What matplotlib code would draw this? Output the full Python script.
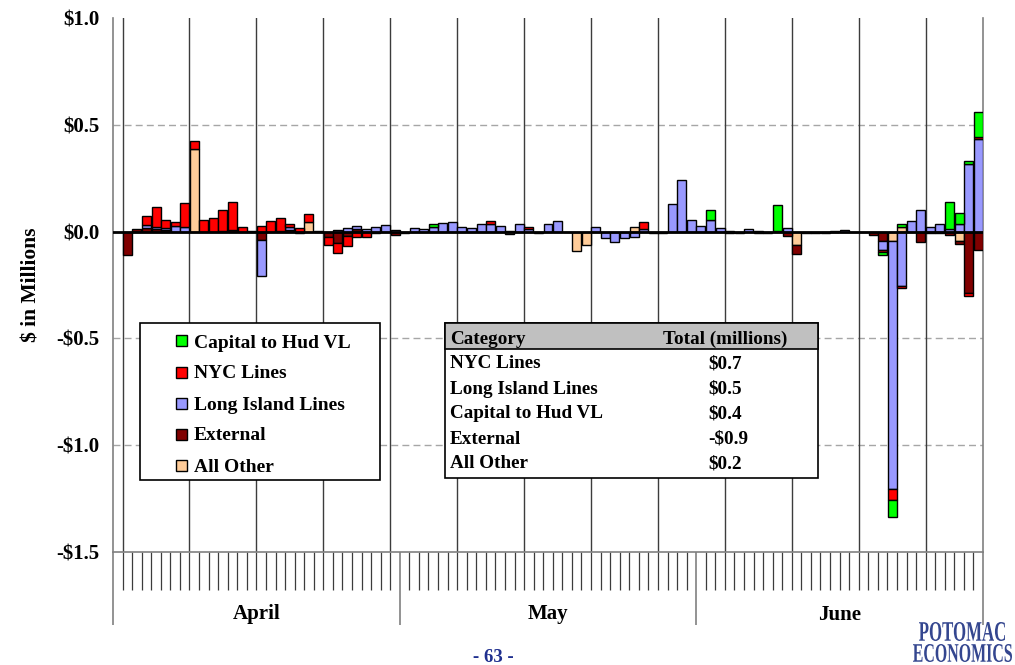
import matplotlib
matplotlib.use("Agg")
import numpy as np
import matplotlib.pyplot as plt
from matplotlib.patches import Rectangle, PathPatch
from matplotlib.textpath import TextPath
from matplotlib.font_manager import FontProperties
from matplotlib.transforms import Affine2D, IdentityTransform

# ---- daily values, $ millions, April 1 .. June 30 (91 days) ----
all_other = [
    0, 0, 0, 0, 0, 0, 0, 0, 0.385, 0,
    0, 0, 0, 0, 0, 0, 0, 0, 0, 0,
    0.045, 0, 0, 0, 0, 0, 0, 0, 0, 0,
    0, 0, 0, 0, 0, 0, 0, 0, 0, 0,
    0, -0.011, 0, 0, 0, 0, 0, 0, -0.092, -0.062,
    0, 0, 0, 0, 0.023, 0, 0, 0, 0, 0,
    0, 0, 0, 0, 0, 0, 0, 0, 0, 0,
    0, -0.061, 0, 0, 0, 0, 0, 0, 0, 0,
    0, -0.045, 0.02, 0, 0, 0, 0, 0, -0.045, 0,
    0,
]
external = [
    0, -0.11, 0.01, 0.015, 0.01, 0.008, 0, 0, 0, 0,
    0, 0, 0.008, 0, 0.005, -0.04, 0, 0.005, 0.007, -0.008,
    0, 0.005, -0.025, -0.053, -0.022, 0.012, 0, -0.005, 0, -0.017,
    -0.006, 0, 0, 0, 0, 0, 0, 0, 0, 0,
    0, 0, 0, 0, -0.005, 0, 0, -0.004, 0, 0,
    0, 0, 0, 0, 0, 0, -0.005, -0.005, 0, 0,
    0, 0, 0, 0, -0.005, -0.005, 0, -0.007, -0.008, 0.005,
    -0.019, -0.042, -0.006, -0.006, -0.005, -0.004, 0, -0.004, -0.004, -0.014,
    -0.045, 0, 0, 0, -0.048, 0, 0, -0.018, -0.012, -0.288,
    -0.086,
]
long_island = [
    0, 0, 0, 0.015, 0.012, 0.008, 0.026, 0.022, 0, 0,
    0, 0.005, 0, 0, 0, -0.168, 0, 0, 0.013, 0,
    0, 0, 0, 0.008, 0.017, 0.012, 0.012, 0.022, 0.031, 0.009,
    0, 0.016, 0.012, 0.022, 0.039, 0.045, 0.02, 0.017, 0.036, 0.034,
    0.025, 0.004, 0.037, 0.012, 0, 0.035, 0.048, 0, 0, 0,
    0.02, -0.031, -0.047, -0.031, -0.026, 0.012, 0, 0, 0.13, 0.24,
    0.052, 0.026, 0.053, 0.016, 0.003, 0, 0.012, 0.005, 0, 0,
    0.016, 0, 0, 0, 0, 0.002, 0.006, 0, 0, 0,
    -0.042, -1.16, -0.255, 0.05, 0.1, 0.022, 0.036, 0.01, 0.036, 0.318,
    0.433,
]
nyc = [
    0, 0, 0, 0.045, 0.093, 0.037, 0.02, 0.114, 0.04, 0.053,
    0.062, 0.096, 0.13, 0.02, 0, 0.025, 0.05, 0.06, 0.017, 0.015,
    0.039, 0, -0.039, -0.047, -0.044, -0.025, -0.025, 0, 0, 0,
    0, 0, 0, 0, 0, 0, 0, 0, 0, 0.016,
    0, 0, 0, 0.011, 0, 0, 0, 0, 0, 0,
    0, 0, 0, 0, 0, 0.034, 0, 0, 0, 0,
    0, 0, 0, 0, 0, 0, 0, 0, 0, 0,
    0, 0, 0, 0, 0, 0, 0, 0, 0, 0,
    -0.01, -0.051, -0.007, 0, 0, 0, -0.008, 0, 0, -0.012,
    0.009,
]
capital = [
    0, 0, 0, 0, 0, 0, 0, 0, 0, 0,
    0, 0, 0, 0, 0, 0, 0, 0, 0, 0,
    0, 0, 0, 0, 0, 0, 0, 0, 0, 0,
    0, 0, 0, 0.015, 0, 0, 0, 0, 0, 0,
    0, 0, 0, 0, 0, 0, 0, 0, 0, 0,
    0, 0, 0, 0, 0, 0, 0, 0, 0, 0,
    0, 0, 0.047, 0, 0, 0, 0, 0, 0, 0.12,
    0, 0, 0, 0, 0, 0, 0, 0, 0, 0,
    -0.012, -0.081, 0.014, 0, 0, -0.008, 0, 0.128, 0.05, 0.014,
    0.117,
]

months = ["April", "May", "June"]
month_days = [30, 31, 30]

y_ticks = [1.0, 0.5, 0.0, -0.5, -1.0, -1.5]
y_tick_labels = ["$1.0", "$0.5", "$0.0", "-$0.5", "-$1.0", "-$1.5"]

table_header = ["Category", "Total (millions)"]
table_rows = ["NYC Lines", "Long Island Lines", "Capital to Hud VL", "External", "All Other"]
table_totals = ["$0.7", "$0.5", "$0.4", "-$0.9", "$0.2"]

# stacking order (from the zero line outward) and legend order (reversed)
series = [
    ("All Other", all_other, "#FFCC99"),
    ("External", external, "#800000"),
    ("Long Island Lines", long_island, "#9999FF"),
    ("NYC Lines", nyc, "#FF0000"),
    ("Capital to Hud VL", capital, "#00FF00"),
]

W, H = 1015, 665
SERIF = "Liberation Serif"
plt.rcParams["font.family"] = [SERIF, "DejaVu Serif"]

fig = plt.figure(figsize=(W / 100, H / 100), dpi=100)
fig.patch.set_facecolor("white")


def fx(px):
    return px / W


def fy(py):
    return 1 - py / H


ax = fig.add_axes([fx(113), fy(552), fx(983) - fx(113), fy(18) - fy(552)])

n_days = sum(month_days)
x = np.arange(n_days) + 0.5
pos_base = np.zeros(n_days)
neg_base = np.zeros(n_days)
for name, vals, col in series:
    v = np.asarray(vals, dtype=float)
    pos = np.where(v > 0, v, 0)
    neg = np.where(v < 0, v, 0)
    mp = v > 0
    mn = v < 0
    ax.bar(x[mp], pos[mp], bottom=pos_base[mp], width=0.94, color=col,
           edgecolor="black", linewidth=1.0, zorder=3)
    ax.bar(x[mn], neg[mn], bottom=neg_base[mn], width=0.94, color=col,
           edgecolor="black", linewidth=1.0, zorder=3)
    pos_base += pos
    neg_base += neg

ax.set_xlim(0, n_days)
ax.set_ylim(-1.5, 1.0)

# horizontal dashed grid and weekly separators
for yv in [0.5, -0.5, -1.0]:
    ax.axhline(yv, color="#a6a6a6", lw=1.0, ls=(0, (5, 3)), zorder=1)
for d in range(1, n_days, 7):
    ax.axvline(d, color="#3c3c3c", lw=1.0, zorder=1)
ax.axhline(0, color="black", lw=2.0, zorder=4)

# spines
for s in ["left", "right", "bottom"]:
    ax.spines[s].set_color("#808080")
    ax.spines[s].set_linewidth(1.2)
ax.spines["top"].set_visible(False)

# y axis
ax.set_yticks(y_ticks)
ax.set_yticklabels(y_tick_labels, fontsize=15, fontweight="bold")
ax.tick_params(axis="y", length=0, pad=10)
ax.set_ylabel("$ in Millions", fontsize=15.5, fontweight="bold")
ax.yaxis.set_label_coords((42 - 113) / 870, 0.5)

# x axis: daily ticks and month boundaries
bounds = np.concatenate([[0], np.cumsum(month_days)])
ax.set_xticks(bounds)
ax.set_xticklabels([])
ax.set_xticks(np.arange(0, n_days + 1), minor=True)
ax.tick_params(axis="x", which="minor", length=38 * 0.72, width=0.9,
               color="#3c3c3c", direction="out")
ax.tick_params(axis="x", which="major", length=73 * 0.72, width=1.2,
               color="#808080", direction="out")
trans = ax.get_xaxis_transform()
for i, m in enumerate(months):
    cx = (bounds[i] + bounds[i + 1]) / 2
    ax.text(cx, -(612 - 552) / 534, m, transform=trans, ha="center",
            va="center_baseline", fontsize=15, fontweight="bold")

# legend box
fig.add_artist(Rectangle((fx(140), fy(480)), fx(380) - fx(140), fy(323) - fy(480),
                         transform=fig.transFigure, fc="white", ec="black", lw=1.2,
                         zorder=10))
for k, (name, vals, col) in enumerate(reversed(series)):
    ry = 341 + 31 * k
    fig.add_artist(Rectangle((fx(176), fy(ry + 5.5)), fx(11), 11 / H,
                             transform=fig.transFigure, fc=col, ec="black",
                             lw=1.0, zorder=11))
    fig.text(fx(194), fy(ry), name, ha="left", va="center_baseline", fontsize=14,
             fontweight="bold", zorder=11)

# totals table
fig.add_artist(Rectangle((fx(445), fy(478)), fx(818) - fx(445), fy(323) - fy(478),
                         transform=fig.transFigure, fc="white", ec="black", lw=1.2,
                         zorder=10))
fig.add_artist(Rectangle((fx(445), fy(349)), fx(818) - fx(445), fy(323) - fy(349),
                         transform=fig.transFigure, fc="#c0c0c0", ec="black", lw=1.2,
                         zorder=10))
fig.text(fx(450), fy(337), table_header[0], ha="left", va="center_baseline", fontsize=13.8,
         fontweight="bold", zorder=11)
fig.text(fx(663), fy(337), table_header[1], ha="left", va="center_baseline", fontsize=13.8,
         fontweight="bold", zorder=11)
for k, (lab, val) in enumerate(zip(table_rows, table_totals)):
    ry = 362 + 25 * k
    fig.text(fx(450), fy(ry), lab, ha="left", va="center_baseline", fontsize=13.8,
             fontweight="bold", zorder=11)
    fig.text(fx(708), fy(ry), val, ha="left", va="center_baseline", fontsize=13.8,
             fontweight="bold", zorder=11)

# page number
fig.text(fx(493), fy(655), "- 63 -", ha="center", va="center_baseline", fontsize=13.5,
         fontweight="bold", color="#1f2f8f")


# condensed serif wordmark
def wordmark(text, x0, x1, ytop, ybot, color):
    tp = TextPath((0, 0), text, size=10,
                  prop=FontProperties(family=SERIF, weight="bold"))
    ext = tp.get_extents()
    sx = (x1 - x0) / ext.width
    sy = (ybot - ytop) / ext.height
    tr = Affine2D().translate(-ext.x0, -ext.y0).scale(sx, sy).translate(x0, H - ybot)
    fig.add_artist(PathPatch(tr.transform_path(tp), transform=IdentityTransform(),
                             fc=color, ec="none", zorder=12))


wordmark("POTOMAC", 919, 1005, 622, 641, "#34468f")
wordmark("ECONOMICS", 913, 1012, 644, 662, "#34468f")

fig.savefig("out.png", dpi=100, facecolor="white")
